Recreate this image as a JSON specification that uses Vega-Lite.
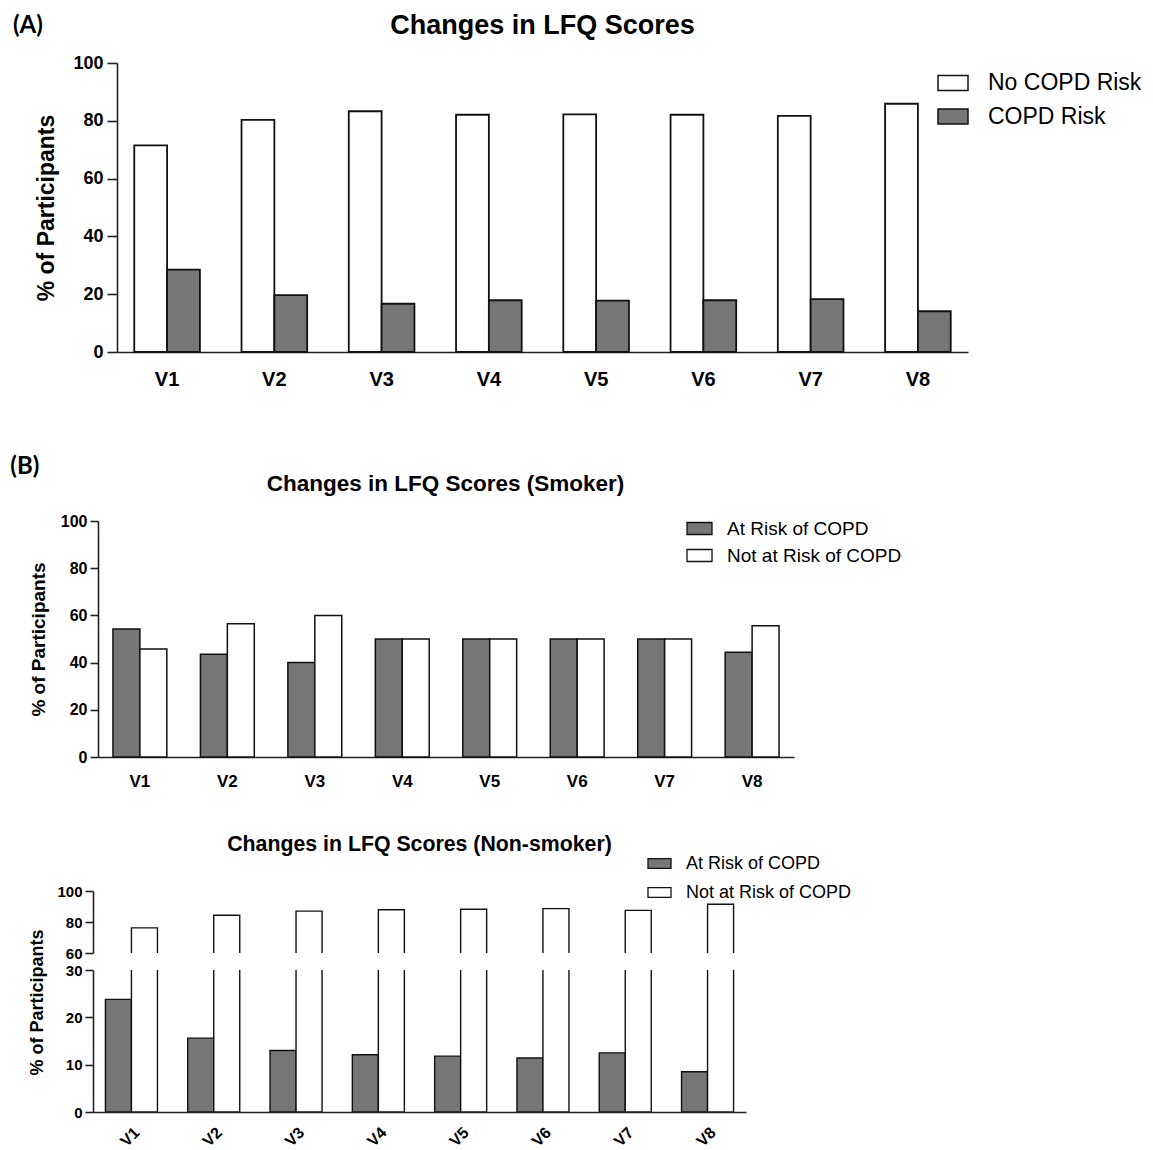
{
  "$schema": "https://vega.github.io/schema/vega-lite/v6.json",
  "background": "white",
  "padding": {"left": 10, "top": 12, "right": 5, "bottom": 0},
  "spacing": 65,
  "datasets": {
    "overall": [
      {"visit": "V1", "status": "No COPD Risk", "pct": 71.5}, {"visit": "V1", "status": "COPD Risk", "pct": 28.5},
      {"visit": "V2", "status": "No COPD Risk", "pct": 80.3}, {"visit": "V2", "status": "COPD Risk", "pct": 19.7},
      {"visit": "V3", "status": "No COPD Risk", "pct": 83.3}, {"visit": "V3", "status": "COPD Risk", "pct": 16.7},
      {"visit": "V4", "status": "No COPD Risk", "pct": 82.1}, {"visit": "V4", "status": "COPD Risk", "pct": 17.9},
      {"visit": "V5", "status": "No COPD Risk", "pct": 82.2}, {"visit": "V5", "status": "COPD Risk", "pct": 17.8},
      {"visit": "V6", "status": "No COPD Risk", "pct": 82.1}, {"visit": "V6", "status": "COPD Risk", "pct": 17.9},
      {"visit": "V7", "status": "No COPD Risk", "pct": 81.7}, {"visit": "V7", "status": "COPD Risk", "pct": 18.3},
      {"visit": "V8", "status": "No COPD Risk", "pct": 85.9}, {"visit": "V8", "status": "COPD Risk", "pct": 14.1}
    ],
    "smoker": [
      {"visit": "V1", "status": "At Risk of COPD", "pct": 54.2}, {"visit": "V1", "status": "Not at Risk of COPD", "pct": 45.8},
      {"visit": "V2", "status": "At Risk of COPD", "pct": 43.5}, {"visit": "V2", "status": "Not at Risk of COPD", "pct": 56.5},
      {"visit": "V3", "status": "At Risk of COPD", "pct": 40.0}, {"visit": "V3", "status": "Not at Risk of COPD", "pct": 60.0},
      {"visit": "V4", "status": "At Risk of COPD", "pct": 50.0}, {"visit": "V4", "status": "Not at Risk of COPD", "pct": 50.0},
      {"visit": "V5", "status": "At Risk of COPD", "pct": 50.0}, {"visit": "V5", "status": "Not at Risk of COPD", "pct": 50.0},
      {"visit": "V6", "status": "At Risk of COPD", "pct": 50.0}, {"visit": "V6", "status": "Not at Risk of COPD", "pct": 50.0},
      {"visit": "V7", "status": "At Risk of COPD", "pct": 50.0}, {"visit": "V7", "status": "Not at Risk of COPD", "pct": 50.0},
      {"visit": "V8", "status": "At Risk of COPD", "pct": 44.4}, {"visit": "V8", "status": "Not at Risk of COPD", "pct": 55.6}
    ],
    "nonsmoker": [
      {"visit": "V1", "status": "At Risk of COPD", "pct": 23.8}, {"visit": "V1", "status": "Not at Risk of COPD", "pct": 76.2},
      {"visit": "V2", "status": "At Risk of COPD", "pct": 15.6}, {"visit": "V2", "status": "Not at Risk of COPD", "pct": 84.4},
      {"visit": "V3", "status": "At Risk of COPD", "pct": 13.0}, {"visit": "V3", "status": "Not at Risk of COPD", "pct": 87.0},
      {"visit": "V4", "status": "At Risk of COPD", "pct": 12.1}, {"visit": "V4", "status": "Not at Risk of COPD", "pct": 87.9},
      {"visit": "V5", "status": "At Risk of COPD", "pct": 11.8}, {"visit": "V5", "status": "Not at Risk of COPD", "pct": 88.2},
      {"visit": "V6", "status": "At Risk of COPD", "pct": 11.4}, {"visit": "V6", "status": "Not at Risk of COPD", "pct": 88.6},
      {"visit": "V7", "status": "At Risk of COPD", "pct": 12.5}, {"visit": "V7", "status": "Not at Risk of COPD", "pct": 87.5},
      {"visit": "V8", "status": "At Risk of COPD", "pct": 8.5}, {"visit": "V8", "status": "Not at Risk of COPD", "pct": 91.5}
    ]
  },
  "config": {
    "font": "Liberation Sans",
    "view": {"stroke": null},
    "axis": {
      "grid": false,
      "domainColor": "#222", "domainWidth": 1.6,
      "tickColor": "#222", "tickWidth": 1.6,
      "labelColor": "#000", "labelFontWeight": "bold", "labelFont": "Liberation Sans",
      "titleColor": "#000", "titleFontWeight": "bold", "titleFont": "Liberation Sans"
    },
    "title": {"color": "#000", "fontWeight": "bold", "font": "Liberation Sans"},
    "legend": {"labelColor": "#000", "labelFont": "Liberation Sans", "padding": 0, "labelLimit": 400}
  },
  "resolve": {
    "scale": {"x": "independent", "y": "independent", "xOffset": "independent", "fill": "independent"},
    "axis": {"x": "independent", "y": "independent"},
    "legend": {"fill": "independent"}
  },
  "vconcat": [
    {
      "title": {"text": "(A)", "anchor": "start", "font": "Lato", "fontSize": 24, "dx": -23, "dy": 30},
      "vconcat": [
        {
          "title": {"text": "Changes in LFQ Scores", "fontSize": 27, "anchor": "middle", "frame": "group", "offset": 14, "dx": 12},
          "width": 875,
          "height": 289,
          "data": {"name": "overall"},
          "mark": {"type": "bar", "stroke": "#111", "strokeWidth": 1.8},
          "encoding": {
            "x": {
              "field": "visit", "type": "nominal",
              "scale": {"range": [24, 875], "paddingInner": 0.388, "paddingOuter": 0.161},
              "axis": {"title": null, "ticks": false, "labelAngle": 0, "labelFontSize": 20, "labelPadding": 17}
            },
            "xOffset": {"field": "status", "type": "nominal", "sort": ["No COPD Risk", "COPD Risk"]},
            "y": {
              "field": "pct", "type": "quantitative",
              "scale": {"domain": [0, 100]},
              "axis": {"title": "% of Participants", "offset": -24, "values": [0, 20, 40, 60, 80, 100], "tickSize": 10, "labelFontSize": 18, "labelPadding": 4, "titleFontSize": 23, "titlePadding": 14}
            },
            "fill": {
              "field": "status", "type": "nominal",
              "scale": {"domain": ["No COPD Risk", "COPD Risk"], "range": ["#ffffff", "#767676"]},
              "legend": {
                "title": null, "orient": "none", "legendX": 844, "legendY": 4,
                "symbolType": "M-1,-0.5H1V0.5H-1Z", "symbolSize": 900,
                "symbolStrokeColor": "#111", "symbolStrokeWidth": 1.5,
                "labelFontSize": 23, "labelOffset": 19, "rowPadding": 5.5
              }
            }
          }
        }
      ]
    },
    {
      "title": {"text": "(B)", "anchor": "start", "font": "Lato", "fontSize": 24, "dx": -18, "dy": 10},
      "spacing": 44,
      "resolve": {
        "scale": {"x": "independent", "y": "independent", "xOffset": "independent", "fill": "independent"},
        "axis": {"x": "independent", "y": "independent"},
        "legend": {"fill": "independent"}
      },
      "vconcat": [
        {
          "title": {"text": "Changes in LFQ Scores (Smoker)", "fontSize": 22.5, "anchor": "middle", "frame": "group", "offset": 18, "dx": 2},
          "width": 701,
          "height": 236,
          "data": {"name": "smoker"},
          "mark": {"type": "bar", "stroke": "#111", "strokeWidth": 1.5},
          "encoding": {
            "x": {
              "field": "visit", "type": "nominal",
              "scale": {"range": [5, 701], "paddingInner": 0.384, "paddingOuter": 0.171},
              "axis": {"title": null, "ticks": false, "labelAngle": 0, "labelFontSize": 17, "labelPadding": 16}
            },
            "xOffset": {"field": "status", "type": "nominal", "sort": ["At Risk of COPD", "Not at Risk of COPD"]},
            "y": {
              "field": "pct", "type": "quantitative",
              "scale": {"domain": [0, 100]},
              "axis": {"title": "% of Participants", "offset": -5, "values": [0, 20, 40, 60, 80, 100], "tickSize": 8, "labelFontSize": 16, "labelPadding": 3, "titleFontSize": 19, "titlePadding": 12}
            },
            "fill": {
              "field": "status", "type": "nominal",
              "scale": {"domain": ["At Risk of COPD", "Not at Risk of COPD"], "range": ["#767676", "#ffffff"]},
              "legend": {
                "title": null, "orient": "none", "legendX": 593, "legendY": -6,
                "symbolType": "M-1,-0.48H1V0.48H-1Z", "symbolSize": 625,
                "symbolStrokeColor": "#111", "symbolStrokeWidth": 1.3,
                "labelFontSize": 19, "labelOffset": 14, "rowPadding": 3
              }
            }
          }
        },
        {
          "bounds": "flush",
          "spacing": 17,
          "resolve": {
            "scale": {"x": "independent", "y": "independent", "xOffset": "independent", "fill": "independent"},
            "axis": {"x": "independent", "y": "independent"},
            "legend": {"fill": "independent"}
          },
          "vconcat": [
            {
              "title": {"text": "Changes in LFQ Scores (Non-smoker)", "fontSize": 21.3, "anchor": "middle", "frame": "group", "offset": -4},
              "width": 653,
              "height": 62,
              "data": {"name": "nonsmoker"},
              "mark": {"type": "bar", "stroke": "#111", "strokeWidth": 1.4, "clip": true},
              "encoding": {
                "x": {
                  "field": "visit", "type": "nominal",
                  "scale": {"paddingInner": 0.368, "paddingOuter": 0.151},
                  "axis": null
                },
                "xOffset": {"field": "status", "type": "nominal", "sort": ["At Risk of COPD", "Not at Risk of COPD"]},
                "y": {
                  "field": "pct", "type": "quantitative",
                  "scale": {"domain": [60, 100], "zero": false},
                  "axis": {"title": null, "values": [60, 80, 100], "tickSize": 8, "labelFontSize": 15, "labelPadding": 3}
                },
                "fill": {
                  "field": "status", "type": "nominal",
                  "scale": {"domain": ["At Risk of COPD", "Not at Risk of COPD"], "range": ["#767676", "#ffffff"]},
                  "legend": {
                    "title": null, "orient": "none", "legendX": 554, "legendY": -40,
                    "symbolType": "M-1,-0.43H1V0.43H-1Z", "symbolSize": 529,
                    "symbolStrokeColor": "#111", "symbolStrokeWidth": 1.3,
                    "labelFontSize": 18, "labelOffset": 14, "rowPadding": 7
                  }
                }
              }
            },
            {
              "width": 653,
              "height": 142,
              "data": {"name": "nonsmoker"},
              "mark": {"type": "bar", "stroke": "#111", "strokeWidth": 1.4, "clip": true},
              "encoding": {
                "x": {
                  "field": "visit", "type": "nominal",
                  "scale": {"paddingInner": 0.368, "paddingOuter": 0.151},
                  "axis": {"title": null, "ticks": false, "labelAngle": -45, "labelFontSize": 16, "labelPadding": 12}
                },
                "xOffset": {"field": "status", "type": "nominal", "sort": ["At Risk of COPD", "Not at Risk of COPD"]},
                "y": {
                  "field": "pct", "type": "quantitative",
                  "scale": {"domain": [0, 30]},
                  "axis": {"title": "% of Participants", "values": [0, 10, 20, 30], "tickSize": 8, "labelFontSize": 15, "labelPadding": 3, "titleFontSize": 18, "titlePadding": 19, "titleY": 32}
                },
                "fill": {
                  "field": "status", "type": "nominal",
                  "scale": {"domain": ["At Risk of COPD", "Not at Risk of COPD"], "range": ["#767676", "#ffffff"]},
                  "legend": null
                }
              }
            }
          ]
        }
      ]
    }
  ]
}
